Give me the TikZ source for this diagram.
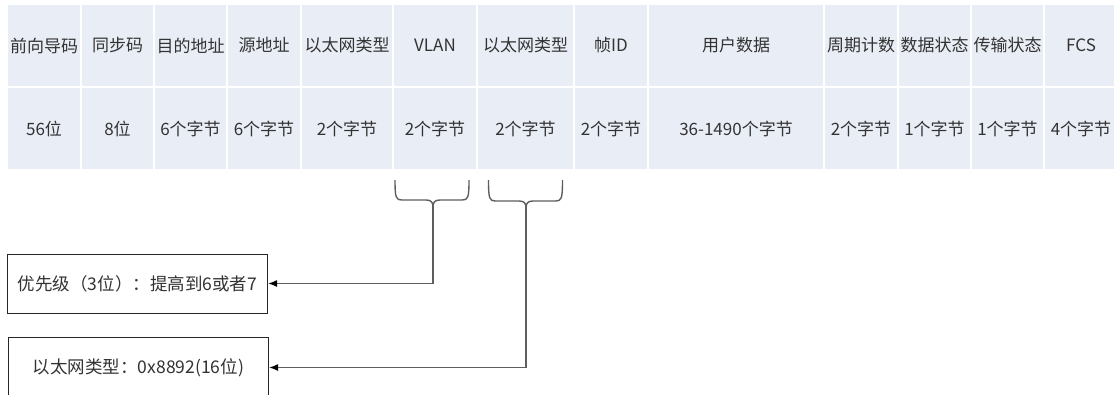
\documentclass[tikz,border=0pt]{standalone}
\usepackage{fontspec}
\setmainfont{Noto Sans CJK SC}
\usetikzlibrary{arrows.meta}
\definecolor{cellfill}{HTML}{E9EDF6}
\definecolor{txt}{HTML}{333333}
\definecolor{conncol}{HTML}{5E5E5E}
\tikzset{
  cell/.style={fill=cellfill, draw=none, inner sep=0pt, text=txt, font=\fontsize{17}{20}\selectfont, anchor=center},
  infobox/.style={draw=black!85, line width=1pt, fill=white, inner sep=0pt, text=txt, font=\fontsize{17.5}{20}\selectfont, minimum width=260, minimum height=59},
  bracecurve/.style={draw=conncol, line width=1.4pt},
  conn/.style={draw=conncol, line width=1.4pt, -{Latex[length=9pt,width=7pt,black]}},
}
\begin{document}
\begin{tikzpicture}[x=1pt,y=-1pt]
\useasboundingbox (0,0) rectangle (1114,394);
\fill[white] (0,0) rectangle (1114,394);
\foreach \l/\r/\h/\v [count=\i] in {
  7/81/前向导码/56位,
  81/154/同步码/8位,
  154/227/目的地址/6个字节,
  227/301/源地址/6个字节,
  301/393/以太网类型/2个字节,
  393/477/VLAN/2个字节,
  477/574/以太网类型/2个字节,
  574/648/帧ID/2个字节,
  648/824/用户数据/36-1490个字节,
  824/898/周期计数/2个字节,
  898/971/数据状态/1个字节,
  971/1044/传输状态/1个字节,
  1044/1118/FCS/4个字节}{
  \node[cell, minimum width={\r-\l-2}, minimum height=81] (h\i) at ({(\l+\r)/2},45.5) {\h};
  \node[cell, minimum width={\r-\l-2}, minimum height=81] (v\i) at ({(\l+\r)/2},128.5) {\v};
}
% boxes
\node[infobox] (prio) at (137.5,283.5) {优先级（3位）：提高到6或者7};
\node[infobox, minimum height=60] (etype) at (138.5,367.5) {以太网类型：0x8892(16位)};
% braces
\coordinate (tipA) at (433,207);
\coordinate (tipB) at (526,208);
\draw[bracecurve] (395,180) .. controls (395,198) and (396,200) .. (402,200) -- (426,200) .. controls (431,200) and (433,202) .. (tipA);
\draw[bracecurve] (469,180) .. controls (469,198) and (468,200) .. (462,200) -- (440,200) .. controls (435,200) and (433,202) .. (tipA);
\draw[bracecurve] (488.5,180) .. controls (488.5,199) and (489.5,201) .. (495.5,201) -- (519,201) .. controls (524,201) and (526,203) .. (tipB);
\draw[bracecurve] (562.5,180) .. controls (562.5,199) and (561.5,201) .. (555.5,201) -- (533,201) .. controls (528,201) and (526,203) .. (tipB);
% connectors
\draw[conn] (tipA) |- (prio.east);
\draw[conn] (tipB) |- (etype.east);
\end{tikzpicture}
\end{document}
